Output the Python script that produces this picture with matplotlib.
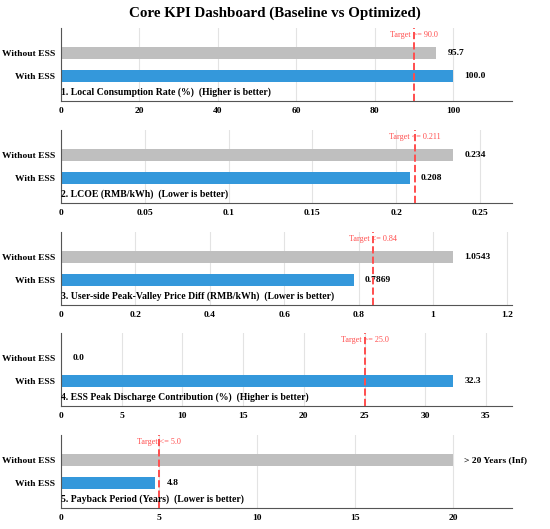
import numpy as np
import matplotlib
matplotlib.use("Agg")
import matplotlib.pyplot as plt
from matplotlib.ticker import FuncFormatter

plt.rcParams["font.family"] = ["Liberation Serif", "DejaVu Serif"]

# data
kpi_titles = [
    "1. Local Consumption Rate (%)  (Higher is better)",
    "2. LCOE (RMB/kWh)  (Lower is better)",
    "3. User-side Peak-Valley Price Diff (RMB/kWh)  (Lower is better)",
    "4. ESS Peak Discharge Contribution (%)  (Higher is better)",
    "5. Payback Period (Years)  (Lower is better)",
]
without_ess = [95.7, 0.234, 1.0543, 0.0, 20.0]
with_ess = [100.0, 0.208, 0.7869, 32.3, 4.8]
without_labels = ["95.7", "0.234", "1.0543", "0.0", "> 20 Years (Inf)"]
with_labels = ["100.0", "0.208", "0.7869", "32.3", "4.8"]
targets = [90.0, 0.211, 0.84, 25.0, 5.0]
target_labels = ["Target >= 90.0", "Target <= 0.211", "Target <= 0.84",
                 "Target >= 25.0", "Target <= 5.0"]
row_names = ["With ESS", "Without ESS"]

W, H = 550, 529
fig = plt.figure(figsize=(W / 100, H / 100), dpi=100)
fig.text(0.5, 1 - 13 / H, "Core KPI Dashboard (Baseline vs Optimized)",
         ha="center", va="center", fontsize=10.8, fontweight="bold")

tops = [28, 130, 232, 333, 435]
ax_h = 73
left_px, right_px = 61, 512

for i in range(5):
    ax = fig.add_axes([left_px / W, 1 - (tops[i] + ax_h) / H,
                       (right_px - left_px) / W, ax_h / H])
    xmax = max(without_ess[i], with_ess[i]) * 1.15
    ax.barh([1], [without_ess[i]], height=0.5, color="#bfbfbf", zorder=2)
    ax.barh([0], [with_ess[i]], height=0.5, color="#3498db", zorder=2)
    off = xmax * 0.025
    ax.text(without_ess[i] + off, 1, without_labels[i], va="center", ha="left",
            fontsize=6.8, fontweight="bold")
    ax.text(with_ess[i] + off, 0, with_labels[i], va="center", ha="left",
            fontsize=6.8, fontweight="bold")
    ax.axvline(targets[i], color="#ff4d4d", ls="--", lw=1.4, zorder=3)
    ax.text(targets[i], 1.75, target_labels[i], color="#ff4d4d", ha="center",
            va="center", fontsize=5.9)
    ax.text(0, -0.68, kpi_titles[i], ha="left", va="center", fontsize=7,
            fontweight="bold")
    ax.set_xlim(0, xmax)
    ax.set_ylim(-1.05, 2.05)
    ax.set_yticks([0, 1])
    ax.set_yticklabels(row_names, fontsize=6.8, fontweight="bold")
    ax.xaxis.set_major_formatter(FuncFormatter(lambda v, p: "%g" % round(v, 6)))
    for lab in ax.get_xticklabels():
        lab.set_fontweight("bold")
        lab.set_fontsize(6.8)
    ax.tick_params(axis="both", length=0, labelsize=6.8, pad=4)
    ax.grid(axis="x", color="#e3e3e3", lw=0.8, zorder=0)
    ax.set_axisbelow(True)
    for s in ["top", "right"]:
        ax.spines[s].set_visible(False)
    for s in ["left", "bottom"]:
        ax.spines[s].set_color("#555555")

fig.savefig("out.png", dpi=100)
